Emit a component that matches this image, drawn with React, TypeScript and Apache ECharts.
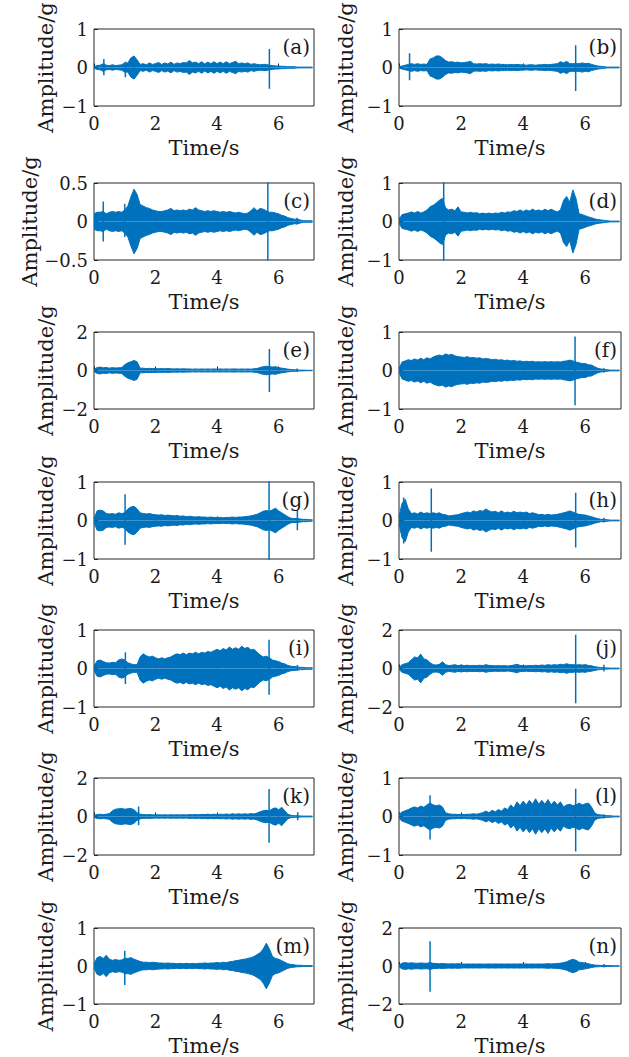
import React, { useEffect, useRef } from "react";
import * as echarts from "echarts";

// ---- data: signal envelopes (|amplitude|, g) sampled every 0.1 s from 0.0 to 7.1 s ----
const ENV_A = [0.02,0.05,0.06,0.1,0.06,0.05,0.07,0.05,0.06,0.07, 0.12,0.12,0.25,0.3,0.2,0.08,0.1,0.07,0.12,0.08, 0.1,0.13,0.08,0.12,0.09,0.14,0.08,0.12,0.1,0.13, 0.12,0.18,0.12,0.14,0.1,0.15,0.09,0.14,0.1,0.15, 0.1,0.14,0.1,0.15,0.1,0.13,0.16,0.1,0.12,0.1, 0.12,0.08,0.1,0.08,0.07,0.08,0.08,0.06,0.05,0.04, 0.04,0.03,0.03,0.02,0.02,0.02,0.01,0.01,0.01,0.01,0.01,0.01];
const ENV_B = [0.02,0.04,0.06,0.08,0.1,0.08,0.1,0.08,0.09,0.08, 0.22,0.25,0.3,0.3,0.25,0.18,0.14,0.15,0.13,0.14, 0.12,0.13,0.14,0.16,0.1,0.09,0.1,0.09,0.1,0.08, 0.09,0.08,0.09,0.08,0.08,0.07,0.08,0.07,0.08,0.07, 0.07,0.06,0.07,0.07,0.06,0.07,0.07,0.08,0.07,0.08, 0.09,0.1,0.15,0.12,0.16,0.1,0.1,0.1,0.1,0.12, 0.1,0.11,0.08,0.06,0.04,0.03,0.02,0.01,0.01,0.01,0.01,0.01];
const ENV_C = [0.1,0.12,0.12,0.13,0.1,0.12,0.13,0.12,0.13,0.12, 0.15,0.2,0.32,0.42,0.35,0.22,0.2,0.18,0.17,0.15, 0.14,0.13,0.13,0.14,0.15,0.17,0.14,0.15,0.14,0.15, 0.14,0.16,0.15,0.18,0.15,0.14,0.13,0.14,0.13,0.14, 0.13,0.12,0.13,0.12,0.13,0.12,0.11,0.12,0.11,0.1, 0.11,0.14,0.18,0.14,0.17,0.16,0.14,0.12,0.12,0.11, 0.1,0.08,0.07,0.05,0.04,0.03,0.03,0.02,0.01,0.01,0.01,0.01];
const ENV_D = [0.05,0.18,0.2,0.22,0.25,0.22,0.26,0.22,0.25,0.3, 0.38,0.42,0.48,0.55,0.6,0.35,0.3,0.32,0.28,0.38, 0.25,0.24,0.22,0.24,0.22,0.23,0.2,0.22,0.2,0.22, 0.2,0.22,0.21,0.24,0.22,0.25,0.24,0.28,0.26,0.3, 0.26,0.3,0.27,0.32,0.28,0.3,0.27,0.32,0.28,0.32, 0.28,0.25,0.3,0.55,0.65,0.5,0.82,0.6,0.2,0.18, 0.15,0.12,0.1,0.07,0.05,0.04,0.03,0.02,0.01,0.01,0.01,0.01];
const ENV_E = [0.05,0.15,0.18,0.14,0.16,0.12,0.15,0.13,0.14,0.15, 0.3,0.4,0.45,0.52,0.45,0.12,0.12,0.1,0.11,0.1, 0.1,0.09,0.1,0.09,0.1,0.09,0.08,0.09,0.08,0.09, 0.08,0.08,0.07,0.08,0.07,0.08,0.07,0.08,0.07,0.08, 0.07,0.08,0.07,0.08,0.07,0.08,0.08,0.07,0.08,0.07, 0.08,0.07,0.09,0.1,0.16,0.2,0.22,0.2,0.18,0.2, 0.15,0.12,0.1,0.07,0.05,0.04,0.03,0.02,0.02,0.01,0.01,0.01];
const ENV_F = [0.05,0.22,0.25,0.28,0.26,0.3,0.27,0.32,0.28,0.33, 0.3,0.35,0.38,0.4,0.38,0.43,0.4,0.42,0.38,0.36, 0.35,0.34,0.36,0.33,0.34,0.32,0.33,0.3,0.31,0.3, 0.28,0.29,0.27,0.28,0.26,0.27,0.25,0.26,0.24,0.25, 0.23,0.24,0.23,0.24,0.22,0.23,0.22,0.23,0.22,0.23, 0.22,0.23,0.22,0.24,0.25,0.27,0.25,0.22,0.2,0.18, 0.18,0.15,0.14,0.1,0.06,0.04,0.03,0.02,0.01,0.01,0.01,0.01];
const ENV_G = [0.05,0.25,0.27,0.25,0.18,0.17,0.18,0.16,0.2,0.18, 0.2,0.3,0.35,0.37,0.3,0.2,0.18,0.17,0.18,0.16, 0.15,0.14,0.15,0.13,0.14,0.13,0.12,0.13,0.11,0.12, 0.1,0.11,0.1,0.09,0.1,0.09,0.09,0.08,0.09,0.08, 0.08,0.08,0.07,0.08,0.08,0.09,0.08,0.09,0.09,0.1, 0.11,0.12,0.14,0.16,0.2,0.24,0.26,0.24,0.28,0.32, 0.25,0.2,0.15,0.1,0.06,0.05,0.05,0.04,0.03,0.03,0.02,0.02];
const ENV_H = [0.1,0.45,0.55,0.3,0.18,0.2,0.17,0.22,0.18,0.2, 0.18,0.2,0.18,0.2,0.16,0.15,0.12,0.13,0.14,0.15, 0.18,0.2,0.22,0.2,0.25,0.22,0.26,0.24,0.3,0.25, 0.22,0.24,0.2,0.25,0.2,0.22,0.2,0.24,0.2,0.22, 0.2,0.22,0.18,0.2,0.18,0.15,0.16,0.14,0.16,0.14, 0.15,0.16,0.18,0.2,0.22,0.25,0.22,0.18,0.16,0.15, 0.14,0.12,0.1,0.07,0.05,0.03,0.03,0.02,0.01,0.01,0.01,0.01];
const ENV_I = [0.05,0.2,0.22,0.18,0.15,0.14,0.16,0.15,0.22,0.25, 0.22,0.15,0.12,0.1,0.1,0.3,0.38,0.33,0.3,0.32, 0.28,0.25,0.28,0.25,0.28,0.3,0.35,0.38,0.36,0.4, 0.36,0.4,0.38,0.42,0.38,0.42,0.4,0.44,0.42,0.46, 0.5,0.46,0.52,0.48,0.56,0.5,0.54,0.5,0.58,0.52, 0.55,0.48,0.5,0.42,0.35,0.3,0.32,0.28,0.22,0.2, 0.18,0.14,0.12,0.08,0.06,0.05,0.04,0.03,0.03,0.02,0.02,0.02];
const ENV_J = [0.05,0.2,0.25,0.3,0.45,0.6,0.55,0.75,0.5,0.45, 0.3,0.2,0.18,0.22,0.35,0.2,0.15,0.17,0.2,0.15, 0.18,0.15,0.17,0.15,0.16,0.15,0.17,0.15,0.2,0.16, 0.15,0.14,0.15,0.14,0.15,0.13,0.15,0.18,0.22,0.16, 0.15,0.14,0.16,0.15,0.17,0.15,0.18,0.16,0.2,0.17, 0.2,0.18,0.22,0.2,0.25,0.2,0.2,0.18,0.2,0.18, 0.2,0.16,0.14,0.1,0.07,0.05,0.04,0.03,0.02,0.02,0.02,0.02];
const ENV_K = [0.05,0.1,0.12,0.1,0.12,0.15,0.3,0.38,0.4,0.42, 0.38,0.4,0.42,0.35,0.2,0.12,0.1,0.09,0.1,0.09, 0.08,0.09,0.08,0.09,0.08,0.09,0.08,0.09,0.08,0.09, 0.08,0.1,0.09,0.1,0.09,0.11,0.1,0.12,0.1,0.12, 0.1,0.12,0.11,0.13,0.11,0.14,0.12,0.14,0.12,0.14, 0.12,0.15,0.13,0.18,0.25,0.3,0.32,0.3,0.4,0.45, 0.35,0.48,0.3,0.12,0.06,0.04,0.04,0.03,0.02,0.02,0.02,0.02];
const ENV_L = [0.05,0.12,0.15,0.18,0.22,0.25,0.22,0.27,0.24,0.3, 0.35,0.3,0.28,0.3,0.25,0.1,0.07,0.06,0.06,0.05, 0.06,0.05,0.06,0.06,0.07,0.06,0.08,0.1,0.14,0.1, 0.16,0.12,0.18,0.14,0.22,0.18,0.3,0.22,0.38,0.28, 0.4,0.3,0.42,0.32,0.46,0.32,0.42,0.32,0.44,0.3, 0.4,0.3,0.38,0.25,0.3,0.32,0.28,0.3,0.35,0.3, 0.33,0.35,0.25,0.1,0.05,0.04,0.03,0.02,0.02,0.01,0.01,0.01];
const ENV_M = [0.05,0.22,0.25,0.2,0.28,0.18,0.15,0.17,0.15,0.16, 0.2,0.2,0.22,0.18,0.15,0.12,0.1,0.1,0.09,0.1, 0.09,0.08,0.08,0.07,0.08,0.07,0.07,0.06,0.07,0.06, 0.07,0.06,0.07,0.06,0.07,0.07,0.08,0.07,0.08,0.08, 0.09,0.08,0.1,0.09,0.11,0.12,0.14,0.15,0.17,0.18, 0.2,0.22,0.25,0.3,0.35,0.45,0.6,0.45,0.25,0.2, 0.18,0.14,0.1,0.06,0.04,0.03,0.02,0.02,0.01,0.01,0.01,0.01];
const ENV_N = [0.05,0.15,0.18,0.15,0.17,0.15,0.14,0.16,0.15,0.14, 0.18,0.14,0.13,0.12,0.13,0.12,0.11,0.12,0.11,0.12, 0.11,0.1,0.11,0.1,0.11,0.1,0.11,0.1,0.1,0.11, 0.1,0.11,0.1,0.11,0.1,0.11,0.1,0.11,0.1,0.11, 0.1,0.11,0.1,0.11,0.1,0.11,0.1,0.11,0.12,0.11, 0.12,0.13,0.15,0.18,0.22,0.3,0.35,0.3,0.2,0.18, 0.15,0.12,0.08,0.05,0.04,0.03,0.03,0.02,0.02,0.01,0.01,0.01];

// ---- data: isolated spikes [time s, max g, min g] ----
const SPIKES_A = [[0.32, 0.22, -0.2], [1.02, 0.15, -0.25], [1.3, 0.3, -0.3], [5.7, 0.48, -0.55]];
const SPIKES_B = [[0.34, 0.37, -0.33], [5.69, 0.58, -0.61]];
const SPIKES_C = [[0.3, 0.26, -0.26], [1.0, 0.23, -0.2], [5.65, 0.6, -0.6], [6.6, 0.05, -0.04]];
const SPIKES_D = [[1.44, 1.1, -1.1]];
const SPIKES_E = [[5.7, 1.12, -1.12], [6.6, 0.1, -0.08]];
const SPIKES_F = [[5.67, 0.88, -0.9], [6.6, 0.06, -0.05]];
const SPIKES_G = [[1.01, 0.68, -0.63], [5.69, 1.1, -1.1], [6.61, 0.28, -0.25]];
const SPIKES_H = [[0.15, 0.6, -0.6], [1.04, 0.83, -0.81], [5.69, 0.72, -0.7], [6.6, 0.07, -0.05]];
const SPIKES_I = [[1.02, 0.42, -0.4], [5.69, 0.75, -0.68], [6.61, 0.09, -0.06]];
const SPIKES_J = [[5.69, 1.75, -1.8], [6.6, 0.2, -0.15]];
const SPIKES_K = [[1.45, 0.52, -0.45], [5.69, 1.43, -1.36], [6.62, 0.22, -0.2]];
const SPIKES_L = [[1.0, 0.55, -0.6], [5.69, 0.72, -0.91], [6.6, 0.06, -0.05]];
const SPIKES_M = [[1.0, 0.4, -0.5]];
const SPIKES_N = [[1.0, 1.3, -1.35], [6.6, 0.1, -0.08]];

const LABELS = ["(a)", "(b)", "(c)", "(d)", "(e)", "(f)", "(g)", "(h)", "(i)", "(j)", "(k)", "(l)", "(m)", "(n)"];
const ENVS = [ENV_A, ENV_B, ENV_C, ENV_D, ENV_E, ENV_F, ENV_G, ENV_H, ENV_I, ENV_J, ENV_K, ENV_L, ENV_M, ENV_N];
const SPIKES = [SPIKES_A, SPIKES_B, SPIKES_C, SPIKES_D, SPIKES_E, SPIKES_F, SPIKES_G, SPIKES_H, SPIKES_I, SPIKES_J, SPIKES_K, SPIKES_L, SPIKES_M, SPIKES_N];
const Y_LIMITS = [1, 1, 0.5, 1, 2, 1, 1, 1, 1, 2, 2, 1, 1, 2];
const X_TICKS = [0, 2, 4, 6];
const X_MAX = 7.15;
const TIME = ENV_A.map((_, k) => k / 10);

const BLUE = "#0072BD";
const INK = "#262626";
const TEXT = "#1a1a1a";
const FONT = "'DejaVu Serif', serif";
const ROW_TOPS = [29, 183, 332, 482, 630, 778, 928];

function fmt(v: number) {
  if (v === 0) return "0";
  return (v < 0 ? "\u2212" : "") + String(Math.abs(Math.round(v * 100) / 100));
}

function buildOption() {
  const grid: any[] = [];
  const xAxis: any[] = [];
  const yAxis: any[] = [];
  const series: any[] = [];
  const graphic: any[] = [];
  LABELS.forEach((label, i) => {
    const col = i % 2;
    const row = Math.floor(i / 2);
    const left = col === 0 ? 94 : 399;
    const width = col === 0 ? 220 : 222;
    const top = ROW_TOPS[row];
    const height = 77;
    const lim = Y_LIMITS[i];
    grid.push({ left, top, width, height, show: true, borderColor: INK, borderWidth: 1, backgroundColor: "transparent" });
    xAxis.push({
      gridIndex: i, type: "value", min: 0, max: X_MAX, interval: X_TICKS[1] - X_TICKS[0],
      axisLine: { show: false },
      axisTick: { show: true, inside: true, length: 4, lineStyle: { color: INK, width: 1 } },
      axisLabel: { show: true, showMaxLabel: false, fontFamily: FONT, fontSize: 18, color: TEXT, margin: 8 },
      splitLine: { show: false },
      name: "Time/s", nameLocation: "middle", nameGap: 31,
      nameTextStyle: { fontFamily: FONT, fontSize: 21, color: TEXT },
    });
    const wide = lim === 0.5;
    yAxis.push({
      gridIndex: i, type: "value", min: -lim, max: lim, interval: lim,
      axisLine: { show: false },
      axisTick: { show: true, inside: true, length: 4, lineStyle: { color: INK, width: 1 } },
      axisLabel: { show: true, fontFamily: FONT, fontSize: 18, color: TEXT, margin: 6, formatter: (v: number) => fmt(v) },
      splitLine: { show: false },
      name: "Amplitude/g", nameLocation: "middle", nameRotate: 90,
      nameGap: wide ? 52 : col === 0 ? 38 : 43,
      nameTextStyle: { fontFamily: FONT, fontSize: 21, color: TEXT },
    });
    const env = ENVS[i];
    series.push({
      type: "line", xAxisIndex: i, yAxisIndex: i, symbol: "none", silent: true,
      data: env.map((v, k) => [TIME[k], v]),
      lineStyle: { color: BLUE, width: 1 }, areaStyle: { color: BLUE, opacity: 1 },
    });
    series.push({
      type: "line", xAxisIndex: i, yAxisIndex: i, symbol: "none", silent: true,
      data: env.map((v, k) => [TIME[k], -v]),
      lineStyle: { color: BLUE, width: 1 }, areaStyle: { color: BLUE, opacity: 1 },
    });
    SPIKES[i].forEach((s) => {
      series.push({
        type: "line", xAxisIndex: i, yAxisIndex: i, symbol: "none", silent: true,
        data: [[s[0], s[1]], [s[0], s[2]]],
        lineStyle: { color: BLUE, width: 1.5 },
      });
    });
    graphic.push({
      type: "text", x: left + width - 4, y: top + 8, z: 100,
      style: { text: label, fontFamily: FONT, fontSize: 20, fill: TEXT, align: "right", verticalAlign: "top", textAlign: "right", textVerticalAlign: "top" },
    });
  });
  return { animation: false, backgroundColor: "#ffffff", grid, xAxis, yAxis, series, graphic };
}

export default function App() {
  const ref = useRef<HTMLDivElement>(null);
  useEffect(() => {
    if (!ref.current) return;
    const chart = echarts.init(ref.current, null, { renderer: "svg" });
    chart.setOption(buildOption() as any);
    return () => chart.dispose();
  }, []);
  return <div ref={ref} style={{ position: "absolute", left: 0, top: 0, width: 629, height: 1057 }} />;
}
